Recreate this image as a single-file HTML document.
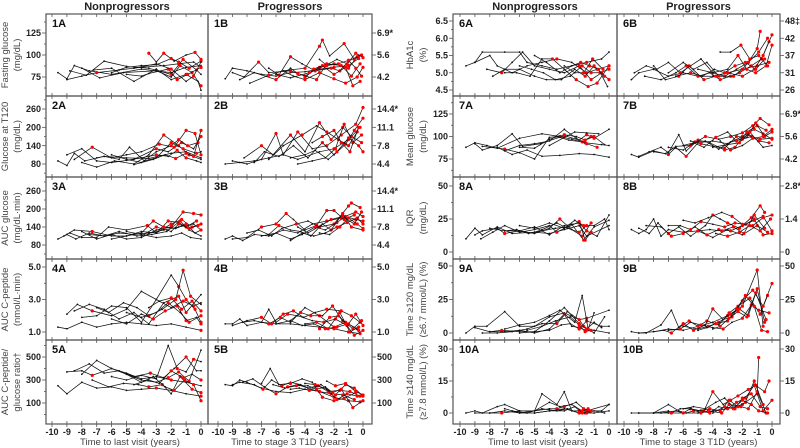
<!DOCTYPE html>
<html><head><meta charset="utf-8">
<style>
html,body{margin:0;padding:0;background:#fff;}
svg{display:block;font-family:"Liberation Sans",Arial,sans-serif;}
.tk{font-size:9px;font-weight:bold;fill:#222;}
.ttl{font-size:9.5px;fill:#444;}
.hd{font-size:11px;font-weight:bold;fill:#222;}
.pl{font-size:11px;font-weight:bold;fill:#111;}
</style></head>
<body>
<svg id="fig" width="800" height="448" viewBox="0 0 800 448" xmlns="http://www.w3.org/2000/svg"></svg>
<script>
// ---- data: each subject "t:v" pairs, * = red marker ----
const p1A=["-9.6:80,-9:73,-8.5:88,-7.5:82,-6:78,-4:84,-2:80,-1:86,0:88","-9:72,-8:76,-7:80*,-5.5:83,-4:86,-2.5:88,-1.5:90*,-0.5:92,0:86*","-8.8:82,-7.7:77,-6.5:93,-5:87,-3.5:85,-2:78*,-1.2:95*,-0.3:83*,0:78","-8:85,-6.8:74,-5.2:80,-3:82,-2:75,-1.4:88*,-0.6:80*,0:65*","-3.5:102*,-3:92,-2.5:102*,-1.8:93,-1:100,-0.4:103*,0:95*","-7.2:83,-6:85,-4.5:70,-3:84,-2:72,-1:78*,-0.2:70,0:60","-6:80,-5:86,-4:88,-3:89,-2:96*,-1.5:92*,-0.8:85*,0:93*","-5:78,-4:76,-3.5:79,-2.2:84*,-1.6:72*,-0.9:78*,0:86*","-4.5:85,-3:90,-2:84*,-1:70,-0.5:76*,0:92"];
const p1B=["-9.5:73,-9:85,-8:82,-7:78,-6:76,-5:80,-4:81,-3:84,-2:86*,-1:88*,-0.3:96*","-9:80,-8.2:75,-7.2:92*,-6.5:80,-5:82*,-4:76*,-3:86*,-2:90*,-1:85*,-0.4:98*","-8.5:72,-7.5:80,-6:72*,-5:85,-4.5:79*,-3.2:72*,-2.5:90*,-1.5:88*,-0.8:76*,-0.2:90*","-7.8:68,-6.5:77*,-5.5:82,-4:85*,-3:110*,-2.8:117*,-2.3:99,-1.3:113*,-0.6:95*,-0.1:100*","-5.5:82,-4.8:76,-4:72*,-3:80*,-2:73*,-1.2:68*,-0.4:75*,0:86*","-6.5:85,-5.8:77*,-5:98*,-4.2:90,-3.3:82*,-2.2:85*,-1.6:82*,-1:93*,-0.3:99*","-4:74*,-3.4:84*,-2.8:88*,-2:78*,-1.2:86*,-0.7:65*,-0.2:70*","-6:78,-5:74,-3.7:80*,-2.6:88*,-1.8:95,-1.1:90*,-0.5:102*,0:97*","-3:95,-2.5:88*,-1.7:90*,-1:94*,-0.5:85*,-0.1:76*"];
const p2A=["-9.6:90,-9:75,-8.5:115,-7.8:90,-6.5:105,-5:100,-3.5:98,-2:115,-1:120,0:100","-9:110,-8:130,-7:90,-6:85,-4.5:95,-3:130*,-2.2:120,-1.3:150*,-0.5:130,0:170*","-8.5:95,-7.3:135*,-6:100,-5:110,-4:120,-2.8:145*,-1.8:135*,-1:190*,-0.4:180*,0:110*","-8:85,-7:70,-5.8:90,-4.5:80,-3.5:110,-2.5:175*,-1.5:140*,-0.8:110*,0:95","-7:100,-6.5:105,-5.5:95,-4.8:135,-3.8:90,-3:100,-2:150*,-1.2:130*,-0.3:115*,0:120","-6:110,-5:95,-4:85,-3:120,-2:140*,-1.5:160*,-0.9:140*,-0.2:150*","-5:92,-4:100,-3:110*,-2.2:105,-1.6:125*,-1:100*,-0.3:90,0:85","-4.5:78,-3.2:95,-2.4:110,-1.7:98*,-1:115*,-0.5:105*,0:190*"];
const p2B=["-9.5:80,-8.5:85,-7.5:90,-6.5:100,-5.5:110,-4.5:95,-3:120,-2:130*,-1:160*,-0.2:200*","-9:90,-8:80,-7:95,-6:180*,-5.5:110,-4.5:185*,-3.5:130,-2.5:140*,-1.5:175*,-0.5:210*,0:265*","-8.2:100,-7:140*,-6.2:110,-5:175*,-4:120,-3:215*,-2.2:160*,-1.4:200*,-0.8:170*,-0.1:150*","-7.5:85,-6.8:120,-5.8:105,-4.8:140,-3.8:100,-2.8:150*,-2:110,-1.2:145*,-0.6:190*,0:230*","-6.5:95,-5.5:140,-4.2:175*,-3.2:205,-2.5:185*,-1.7:160*,-1:140*,-0.4:185*","-5:100,-4:110,-3.3:125,-2.4:95,-1.8:120*,-1:165*,-0.3:140*,0:120*","-4.5:80,-3.5:90,-2.6:100,-1.9:130*,-1.3:210*,-0.7:150*,-0.1:175*","-3.5:150,-2.8:170*,-2:190*,-1.5:150*,-0.9:120*,-0.3:200*"];
const p3A=["-9.6:100,-9:115,-8.4:100,-7.5:120,-6.5:110,-5.5:120,-4.5:115,-3.5:120,-2.5:130,-1.5:140,-0.5:150,0:130","-9.2:110,-8.5:130,-7.3:125*,-6:110,-5:110,-4:125,-3:120,-2:150*,-1.3:165*,-0.6:140*,0:150*","-8.8:120,-8:105,-7:105,-6.2:140,-5:130,-3.6:145*,-3:120,-2.2:160*,-1.5:155*,-1:140*,-0.3:160*","-8:125,-7:100,-6:115,-5:100,-4:105,-3:130,-2:140*,-1.2:190*,-0.5:185*,0:180*","-7.5:115,-6.5:110,-5.5:125,-4.3:110,-3.3:115,-2.3:125,-1.4:160*,-0.8:130,0:110","-6:100,-5:110,-4:120,-3.2:160*,-2.5:140*,-1.7:135,-1:150*,-0.4:120,0:130*","-5:125,-4:115,-3:105,-2:110,-1.3:120,-0.7:105,0:100","-4:110,-3:140*,-2:125,-1.5:150*,-0.8:135*,-0.2:145*"];
const p3B=["-9.5:100,-9:110,-8.3:95,-7.5:115,-6.5:110,-5.5:130,-4.5:120,-3.5:150,-2.5:160*,-1.5:170*,-0.5:190*,0:175*","-9:100,-8:105,-7:140*,-6:150*,-5.3:185*,-4.8:165,-4:130,-3.2:145*,-2.5:195*,-2:195*,-1.3:165*,-0.6:180*","-8:120,-7.2:130,-6.3:110,-5.6:135,-4.6:150*,-3.8:160,-3:140*,-2:150*,-1:210*,-0.8:220*,-0.2:205*","-7:110,-6:120,-5:100,-4.2:115,-3.3:140*,-2.6:130,-1.8:155*,-1.2:175*,-0.5:165*,0:160*","-6.5:115,-5.8:145*,-5:130,-4.3:125,-3.6:110,-2.8:150,-2.2:130*,-1.4:185*,-0.8:140*,0:130*","-5:95,-4.2:120,-3.4:110,-2.6:120,-1.8:140*,-1.1:155*,-0.4:170*,0:150*","-4.5:140,-3.8:120,-2.9:145,-2.2:165*,-1.4:175*,-0.6:150*,-0.1:190*","-3:120,-2.3:115,-1.6:140*,-1:170*,-0.4:150*,0:135*"];
const p4A=["-9.6:1.3,-9:1.2,-8:1.6,-7:1.3,-6:1.5,-5:1.6,-4:1.5,-3:1.4,-2:1.5,-1:1.3,0:1.1*","-9:2.1,-8.3:2.7,-7.3:2.3*,-6:2.0,-5:2.4,-4:3.5,-3:3.0,-2:2.5,-1.2:2.9*,-0.5:2.6*,0:2.8","-8.5:2.3,-7.5:2.7,-6.5:2.4,-5.5:1.8,-4.5:2.2,-3.5:1.5,-2.5:2.8,-1.5:3.2*,-1:2.2*,0:3.3","-8:1.9,-7:2.0,-6:2.6,-5:2.5,-4:1.6,-3:3.0,-2:4.5,-1.5:3.8*,-1:3.0*,-0.4:2.4*,0:1.6*","-7:2.5,-6.2:2.2,-5.2:2.8,-4.3:2.5,-3.5:2.0*,-2.6:2.4,-1.7:3.0*,-1.2:4.8*,-0.7:3.2*,0:2.7","-6:1.8,-5:1.5,-4:2.1,-3.2:1.8*,-2.4:2.3*,-1.6:2.6*,-1:1.7*,-0.3:1.9,0:1.5*","-5:2.2,-4:1.9,-3:2.2,-2.2:2.8*,-1.4:2.2,-0.8:1.6*,0:2.0*","-3.5:2.5,-2.8:2.9,-2:3.1*,-1.3:2.4*,-0.6:2.9*,0:2.3*"];
const p4B=["-9.5:1.5,-9:1.5,-8.5:1.8,-8:1.4,-7:1.6,-6:1.5,-5:1.5,-4:1.4,-3:1.3,-2:1.2*,-1:1.0*,-0.2:0.9*","-9:1.4,-8:1.7,-7:1.9*,-6.3:1.5*,-5.5:2.1*,-4.8:2.3*,-4.1:1.9,-3.3:2.2,-2.5:2.4*,-1.5:2.3*,-0.8:2.0*,-0.2:1.6*","-8.3:1.6,-7.5:1.7,-6.5:1.5*,-5.7:1.9*,-5:1.6,-4:2.5,-3:2.0*,-2:1.3*,-1.2:1.6*,-0.4:1.2*","-7:1.6,-6.5:2.4,-6:1.6,-5.2:2.1*,-4.5:2.0,-3.5:1.7,-2.7:1.6*,-1.9:1.8*,-1.1:1.4*,-0.5:2.1*,0:1.4*","-6:1.5,-5:1.7,-4.2:1.4,-3.4:1.5,-2.6:1.2*,-1.8:1.3*,-1:1.5*,-0.3:1.1*","-5:1.7,-4.3:2.2*,-3.6:2.0*,-2.8:2.0,-2.1:2.6*,-1.4:1.7*,-0.7:1.2*,-0.1:1.7*","-4:1.5,-3.2:1.6*,-2.4:1.2*,-1.6:2.2*,-0.9:1.0*,-0.3:1.3*","-3:1.2*,-2.3:1.9*,-1.7:2.0*,-1.2:1.5*,-0.6:0.8*,0:1.1*"];
const p5A=["-9.6:250,-9:180,-8:280,-7:230,-6:240,-5:210,-4:220,-3:230*,-2:210,-1:180,0:160*","-9:370,-8:380,-7.3:340*,-6:400,-5:360,-4:310,-3:330,-2:300*,-1:280,0:250","-8.5:380,-7.5:440,-6.5:360,-5.5:380,-4.5:330,-3.4:360*,-2.5:320,-1.8:400,-1:500*,-0.3:380,0:380","-8:350,-7:470,-6:400,-5:350,-4:300,-3:280,-2.2:320*,-1.5:370*,-0.8:290*,0:560","-7.3:300,-6.2:240,-5.2:270,-4.2:260,-3.5:240*,-2.6:260*,-2:180,-1.4:330*,-0.6:220*,0:190*","-6:330,-5:300,-4:340,-3:310,-2.2:600,-1.6:400*,-1:370,-0.5:480*,0:460","-5:350,-4:280,-3.2:330,-2.4:240,-1.8:210*,-1.1:300*,-0.5:260*,0:120*","-4.5:260,-3.5:300,-2.8:270,-2:380*,-1.2:320*,-0.6:350,0:300*"];
const p5B=["-9.5:260,-9:250,-8.5:300,-8:280,-7:230,-6:200,-5:190,-4:220,-3:200,-2:150*,-1:120*,-0.2:110*","-9:260,-8.5:280,-7.5:260,-6.9:220*,-6.3:300,-5.6:250*,-5:280,-4.3:260,-3.6:220,-3:200*,-2.2:180*,-1.4:170*,-0.6:130*","-8.3:280,-7.6:310,-6.8:240,-6:180*,-5.2:240*,-4.5:260,-3.8:230,-3.1:250*,-2.4:200*,-1.6:210*,-0.9:200*,-0.2:160*","-7:270,-6.4:400,-5.8:260,-5:270*,-4.2:310,-3.5:280,-2.8:150*,-2:120*,-1.3:140*,-0.5:190*","-6.2:260,-5.4:230,-4.6:250*,-3.8:250,-3.2:220*,-2.6:240,-1.9:170*,-1.2:260*,-0.6:230*,0:160*","-5:220,-4.4:230,-3.7:210*,-2.9:260,-2.1:190*,-1.5:220*,-0.7:60*,0:120*","-4:270,-3.3:260*,-2.5:220,-1.8:130*,-1.1:180*,-0.4:160*","-2.5:290,-1.9:250*,-1.2:270*,-0.5:200*,0:170*"];
const p6A=["-9.6:5.2,-9:5.3,-8.5:5.6,-7:5.6,-6:5.6,-5.5:5.3,-4.5:5.2,-3.5:5.1,-2.5:5.2,-1.5:5.3*,-0.5:5.4,0:5.6","-9:5.3,-8:5.5,-7.5:5.2,-6.5:5.0,-5.5:5.2,-4.5:5.3,-3.5:5.4*,-2.5:5.3,-1.5:5.0*,-0.8:5.1*,0:5.2*","-8.2:5.1,-7.2:5.0*,-6.5:5.3,-5.8:5.6,-5:5.2,-4:5.1,-3:5.0,-2:5.2*,-1.2:4.8*,-0.5:5.0*,0:4.8*","-7.8:4.9,-7:5.1,-6:5.1,-5:4.9,-4.2:4.8,-3.2:4.8,-2.3:5.1,-1.6:4.9*,-1:5.2*,-0.3:4.9*","-7:5.0,-6.2:5.0,-5.3:4.9,-4.5:5.4,-3.8:5.4*,-3:5.1,-2.2:4.8*,-1.4:4.6*,-0.8:4.7*,0:5.2*","-6:5.2,-5.2:5.1,-4.4:5.0,-3.6:4.8,-2.6:4.9,-1.8:5.2*,-1.2:5.0*,-0.6:5.0*,0:5.1*","-5:5.5,-4.2:5.3,-3.3:5.0,-2.5:5.2,-1.9:5.3*,-1.3:5.2*,-0.7:5.1*,-0.1:4.6","-3:5.2,-2.3:5.0,-1.7:5.0*,-1.1:5.4*,-0.4:5.1*"];
const p6B=["-9.5:4.8,-9:5.0,-8:5.1,-7:4.9,-6:5.0,-5:4.9,-4:4.9,-3:5.0,-2:5.1*,-1:5.2*,-0.2:5.3*","-9.3:5.0,-8.5:5.2,-7.8:5.1,-7:5.3,-6.2:5.0*,-5.5:5.2,-4.8:5.4,-4:5.0*,-3.2:4.9*,-2.4:5.1,-1.6:5.3*,-0.9:5.6*,-0.3:6.0*","-8.6:4.9,-7.5:4.8,-6.5:5.0,-5.8:5.2*,-5:4.9*,-4.2:5.0,-3.5:4.8*,-2.8:4.9*,-2.2:5.0*,-1.4:5.2*,-0.7:5.4*,-0.2:5.9*","-8:5.2,-7.2:4.8,-6.3:4.9*,-5.6:5.2*,-4.6:4.8*,-3.8:4.9*,-3:5.0*,-2:4.9*,-1.2:5.1*,-0.6:5.5*,0:6.1*","-7:5.0,-6:5.3,-5.3:5.1,-4.4:5.3,-3.6:4.9*,-2.6:4.9*,-2:5.1*,-1.6:5.3*,-1:5.7*,-0.8:6.2*","-6.5:4.9,-5.5:5.0*,-4.7:4.9,-3.9:5.1,-3.2:5.0*,-2.5:5.2*,-1.8:5.3*,-1.1:5.1*,-0.5:5.4*","-3.5:5.6,-2.8:5.6,-2.1:5.8*,-1.5:5.4*,-0.9:5.5*,-0.3:5.2*","-5:5.1,-4:5.0,-3:5.1,-2.3:5.5*,-1.7:5.1*,-1.1:5.0*,-0.4:5.2*,0:5.8*"];
const p7A=["-9.6:88,-9:93,-8.2:90,-7.5:87,-6:98,-4.5:103,-3.3:100*,-2.5:97,-1.6:93*,-0.5:91,0:90","-9:92,-8.5:85,-7.5:90,-6.5:103,-5.8:89,-4.6:92,-3:101*,-2:96,-1.5:102*,-1:98*,0:108","-8.5:89,-7:86*,-6:82,-5:75,-4:99,-3.5:100,-2.7:96,-1.8:94*,-1.2:100*","-7.5:88,-6.5:80,-5.5:85,-4.5:78,-3.3:79,-2:81,-1:80,0:77","-7:84,-6:90,-5:92,-4:95,-3:108,-2.2:98,-1.5:92*,-0.8:88*","-6:88,-5:87,-4:97,-3:102*,-2.2:100,-1.6:96*,-1:100*,-0.3:91","-4:90,-3:99,-2.3:105,-1.5:104,-0.7:103"];
const p7B=["-9.5:80,-9:77,-8:84,-7:80*,-6.5:88,-5.8:78*,-5:93,-4:95,-3:92,-2:100*,-1.2:108*,-0.6:103*,0:97*","-9:78,-8.3:83,-7.5:88,-7:82,-6.3:102,-5.8:84,-5:96*,-4.2:93,-3.2:85*,-2.5:88*,-1.7:105*,-1:112*,-0.4:107*","-8:83,-7.2:81,-6.5:89,-5.5:90*,-4.5:100*,-3.6:97,-2.8:100*,-2:104*,-1.3:112*,-0.8:120*,-0.2:113*","-7:88,-6:85,-5.2:94*,-4.5:95,-3.6:86,-2.8:94,-2:97*,-1.4:100*,-0.8:97*,0:98*","-6:90,-5.3:93,-4.6:88,-3.8:99*,-3:105,-2.4:95*,-1.6:102*,-0.9:95*,-0.2:93*","-5.5:95,-4.8:92*,-4:89,-3.2:87*,-2.4:100*,-1.7:99,-1.1:115*,-0.5:100*,0:105*","-3.5:95,-2.8:85*,-2:90,-1.3:98*,-0.6:100*,0:108*","-4:88,-3:91,-2.2:93*,-1.5:105*,-0.6:88,0:90"];
const p8A=["-9.6:10,-9:18,-8.5:13,-7.5:19,-6.5:14,-5:15,-4:14,-3:17,-2:20,-1.5:12,0:20","-9:13,-8.5:16,-7.5:18,-7:14*,-6:16,-5:14,-4:18,-3.3:25*,-2.5:17,-1.8:12*,-1.2:22*","-8.6:10,-7.8:15,-7:20,-6:15,-5:17,-4:20,-3.5:15*,-2.5:21,-1.7:9*,-1:19,0:24","-8:18,-7:16,-6:16,-5:19,-4:13,-3:20,-2:22*,-1.5:16*,-0.8:12,0:28","-7:16,-6.2:17,-5.4:14,-4.5:16,-3.6:18,-2.7:19,-2:23*,-1.6:9*,-1.2:15*","-6:20,-5:18,-4:22,-3:18,-2.3:24,-1.7:20*,-1:20,-0.3:25,0:17","-5:15,-4.5:17,-3.5:22,-2.8:18,-2:15*,-1.5:20*"];
const p8B=["-9.5:17,-9:14,-8.5:17,-8:25,-7.5:12,-7:17,-6:15,-5:16*,-4:11,-3:17,-2:13,-1:20*,-0.3:15*","-9:18,-8.3:14,-7.7:22,-7:14*,-6.3:19,-5.5:12,-4.5:20,-4:28*,-3.5:25,-3:22*,-2.2:18*,-1.4:26*,-0.8:35*,-0.5:30*","-8.5:20,-7.5:19,-6.8:12*,-6:14*,-5.2:19,-4.4:13*,-3.6:17*,-2.8:16*,-2:20*,-1.2:24*,-0.6:27*,0:16*","-7:20,-6.2:20,-5.5:17*,-4.8:23*,-4:21,-3.2:19*,-2.5:22*,-1.8:21*,-1.2:25*,-0.6:13*,0:14*","-6:24,-5.2:22,-4.3:26,-3.4:30,-2.7:27*,-2:21*,-1.3:20*,-0.6:26*,0:28*","-5:16*,-4.2:17,-3.4:16*,-2.6:19*,-1.9:14*,-1.2:28*,-0.5:18*","-3.8:14,-3:12*,-2.2:15*,-1.5:20*,-0.8:16*,-0.1:25*"];
const p9A=["-9.6:0,-9:5,-8.2:5,-7:16,-6:5,-5:5,-4:12,-3:15,-2:10,-1.5:11*,0:17","-9:4,-8:1,-7.2:2*,-6:1,-5:1,-4:2,-3.2:6,-2.6:7,-2:3*,-1.5:9*,-0.5:5,0:5","-8.5:0,-7.5:0,-6.5:1,-5.5:3,-4.5:7,-3.5:7*,-2.8:16,-2:10*,-1.7:5*,-1:0,-0.3:12","-8:1,-7:1,-6:2,-5:0,-4:3,-3:14*,-2.5:5,-2:4*,-1.6:2*,-1:2,0:0","-7:3,-6:6,-5:8,-4:13,-3.3:17,-2.3:8,-1.8:28,-1.4:3*,-1:15","-6:0,-5:1,-4:9,-3:19,-2.5:13,-2:7*,-1.5:3*,-1:8,-0.5:4","-5.5:2,-4.5:5,-3.6:9,-2.6:12,-2:6*,-1.6:1*,-1.2:2*"];
const p9B=["-9.5:1,-9:0,-8:1,-7:3,-6:2,-5:5,-4:8,-3:13*,-2:20*,-1:47*,-0.6:5*","-9:0,-8.5:0,-7.5:6,-6.8:17,-6.3:4,-5.6:9*,-5:5*,-4.4:9*,-3.6:6,-2.9:15*,-2.3:20*,-1.5:26*,-0.8:14*,-0.3:28*","-8:1,-7.3:2,-6.8:0*,-6:7*,-5.3:2*,-4.5:6,-4:18*,-3.3:10,-2.7:12*,-2:24*,-1.3:32*,-0.6:20*,0:37*","-7:2,-6.2:3*,-5.5:8,-4.8:6*,-4:4,-3.3:3*,-2.7:8,-2:11*,-1.4:21*,-0.9:17*,-0.2:15*","-6:5,-5:3,-4.3:5*,-3.6:8*,-2.8:14*,-2.2:18*,-1.6:13*,-1:33*,-0.5:8*","-5:2,-4.4:4,-3.8:7*,-3:9*,-2.4:18*,-1.8:28*,-1.2:20*,-0.7:2*,-0.3:1*","-4:3,-3.5:5*,-2.9:11*,-2.3:16*,-1.7:12*,-1.1:30*,-0.4:10*"];
const p10A=["-9.6:0,-9:1,-8.5:0,-7.5:3,-7:4,-6:1,-5:1,-4.5:9,-3.5:4,-3:10,-2.5:1,-2:1*,-1.5:1*,0:4","-9:0,-8:0,-7.2:0*,-6:1,-5:1,-4:2,-3.5:2*,-3:3*,-2.2:5,-1.7:2*,-1.3:1*,-0.5:1,0:4","-8:0,-7:1,-6:0,-5:0,-4:1,-3:2,-2:0*,-1.6:0*,-1:0,0:1","-7:2,-6:0,-5:1,-4:5,-3.3:3,-2.5:4,-1.8:1*,-1.4:2*","-6.5:1,-5.5:0,-4.5:2,-3.5:1,-2.8:2,-2:0*,-1.5:0*,-1:1,-0.3:0","-5:0,-4:1,-3:1,-2.3:3,-1.8:0*,-1.2:1*"];
const p10B=["-9.5:0,-9:0,-8:0,-7:0,-6:0,-5:0,-4:1,-3:2,-2:4*,-1:9*,-0.9:26*","-9:0,-8:0,-7:4,-6.3:1,-5.8:0,-5.3:1*,-4.6:1*,-4:10*,-3.3:4,-2.8:6*,-2.3:8*,-1.6:11*,-1.1:13*,-0.5:10*,-0.2:15*","-8:0,-7:1,-6.8:0*,-6.2:2,-5.5:2*,-4.8:1*,-4.2:0*,-3.6:3,-3:2*,-2.4:5*,-1.8:7*,-1.2:13*,-0.6:1*,0:6*","-7.5:0,-6.5:1,-6:0*,-5.5:2,-4.8:0*,-4.3:1*,-3.4:0*,-2.9:4*,-2.1:3*,-1.6:2*,-1:10*,-0.4:0*","-6:2,-5.3:3,-4.5:2,-3.8:5,-3.2:7,-2.5:2*,-2:7*,-1.4:9*,-0.8:3*,-0.3:2*","-5:1,-4.2:2*,-3.5:1*,-2.9:6*,-2.3:3*,-1.8:5*,-1.2:15*,-0.6:4*","-4:0,-3.2:3*,-2.6:2*,-2:6*,-1.4:4*,-0.9:1*,-0.3:0*"];

const leftTicks=[[75,100,125],[80,140,200,260],[80,140,200,260],[1,3,5],[100,300,500],[4.5,5,5.5,6,6.5],[75,100,125],[0,25,50],[0,25,50],[0,15,30]];
const leftTickText=[["75","100","125"],["80","140","200","260"],["80","140","200","260"],["1.0","3.0","5.0"],["100","300","500"],["4.5","5.0","5.5","6.0","6.5"],["75","100","125"],["0","25","50"],["0","25","50"],["0","15","30"]];
const rightTickText=[["4.2","5.6","6.9*"],["4.4","7.8","11.1","14.4*"],["4.4","7.8","11.1","14.4*"],["1.0","3.0","5.0"],["100","300","500"],["26","31","37","42","48‡"],["4.2","5.6","6.9*"],["0","1.4","2.8*"],["0","25","50"],["0","15","30"]];
const titles1=["Fasting glucose","Glucose at T120","AUC glucose","AUC C-peptide","AUC  C-peptide/","HbA1c","Mean glucose","IQR","Time ≥120 mg/dL","Time ≥140 mg/dL"];
const titles2=["(mg/dL)","(mg/dL)","(mg/dL·min)","(nmol/L·min)","glucose ratio†","(%)","(mg/dL)","(mg/dL)","(≥6.7 mmol/L) (%)","(≥7.8 mmol/L) (%)"];
const xTicks=[-10,-9,-8,-7,-6,-5,-4,-3,-2,-1,0];
const dataA=[p1A,p2A,p3A,p4A,p5A,p6A,p7A,p8A,p9A,p10A];
const dataB=[p1B,p2B,p3B,p4B,p5B,p6B,p7B,p8B,p9B,p10B];

// ---- layout ----
const rowY=[[14,96],[96,177],[177,259],[259,340],[340,424]];
const yCal=[[125,33,75,77],[260,109,80,164],[260,191,80,245],[5,267,1,332],[500,357,100,403],[6.5,21,4.5,90],[125,114,75,159],[50,186,0,252],[50,266,0,333],[30,349,0,413]];
const blocks=[{ax:46,bx:208,ex:372,a0:201,ak:14.9,b0:363,bk:14.5,tx1:8,tx2:20},{ax:453,bx:617,ex:780,a0:609,ak:14.9,b0:772,bk:14.8,tx1:413,tx2:426}];
const NS="http://www.w3.org/2000/svg";
const svg=document.getElementById('fig');
function el(tag,at,parent){const e=document.createElementNS(NS,tag);for(const k in at)e.setAttribute(k,at[k]);(parent||svg).appendChild(e);return e;}
function txt(x,y,s,cls,anchor,parent,rot){const e=el('text',{x:x,y:y,class:cls,'text-anchor':anchor||'middle'},parent);if(rot)e.setAttribute('transform','rotate(-90 '+x+' '+y+')');e.textContent=s;return e;}
function parse(s){return s.split(',').map(p=>{const r=p.endsWith('*');const q=p.replace('*','').split(':');return {t:+q[0],v:+q[1],r:r};});}

function drawPanel(r,which){
  const bi=r<5?0:1, b=blocks[bi], row=r%5;
  const [y0,y1]=rowY[row];
  const c=yCal[r];
  const ys=v=>c[1]+(v-c[0])*(c[3]-c[1])/(c[2]-c[0]);
  const x0=which==='A'?b.ax:b.bx, x1=which==='A'?b.bx:b.ex;
  const xs=t=>which==='A'?b.a0+t*b.ak:b.b0+t*b.bk;
  const g=el('g',{});
  
  
  const box=el('rect',{x:x0,y:y0,width:x1-x0,height:y1-y0,fill:'none',stroke:'#555','stroke-width':1.2},g);
  
  
  xTicks.forEach(t=>{const x=xs(t);
    el('line',{x1:x,x2:x,y1:y0,y2:y0+3,stroke:'#555','stroke-width':0.8},g);
    el('line',{x1:x,x2:x,y1:y1,y2:y1-3,stroke:'#555','stroke-width':0.8},g);
    if(row===4){el('line',{x1:x,x2:x,y1:y1,y2:y1+3,stroke:'#555','stroke-width':0.8},g);
      const lb=txt(x,435,String(t),'tk','middle',g);
      
      }
  });
  const tv=leftTicks[r];
  const step=tv[1]-tv[0];
  if(which==='A'){
    tv.forEach((v,i)=>{const y=ys(v);
      el('line',{x1:x0-4,x2:x0,y1:y,y2:y,stroke:'#555','stroke-width':0.8},g);
      const lb=txt(x0-5,y+3.2,leftTickText[r][i],'tk','end',g);
      
      
      const ym=ys(v+step/2); if(ym>y0+2) el('line',{x1:x0-2,x2:x0,y1:ym,y2:ym,stroke:'#555','stroke-width':0.8},g);
      const yl=ys(v-step/2); if(i===0&&yl<y1-2) el('line',{x1:x0-2,x2:x0,y1:yl,y2:yl,stroke:'#555','stroke-width':0.8},g);
    });
  } else {
    tv.forEach((v,i)=>{const y=ys(v);
      el('line',{x1:x1,x2:x1+4,y1:y,y2:y,stroke:'#555','stroke-width':0.8},g);
      const lb=txt(x1+5,y+3.2,rightTickText[r][i],'tk','start',g);
      
      
    });
  }
  const pl=txt(x0+6,y0+13,(r+1)+which,'pl','start',g);
  
  
  const data=which==='A'?dataA[r]:dataB[r];
  data.forEach((s,si)=>{
    const pts=parse(s);
    const sg=el('g',{},g);
    
    
    el('polyline',{points:pts.map(p=>xs(p.t).toFixed(1)+','+ys(p.v).toFixed(1)).join(' '),fill:'none',stroke:'#111','stroke-width':0.75},sg);
    pts.forEach(p=>{if(!p.r){el('circle',{cx:xs(p.t),cy:ys(p.v),r:0.9,fill:'#111'},sg);}});
    pts.forEach(p=>{if(p.r){const d=el('circle',{cx:xs(p.t),cy:ys(p.v),r:1.6,fill:'#f00'},sg);
      
      }});
  });
  if(which==='A'){
    const cy=(y0+y1)/2;
    const t1=txt(b.tx1,cy,titles1[r],'ttl','middle',svg,true);
    
    
    const t2=txt(b.tx2,cy,titles2[r],'ttl','middle',svg,true);
    
    
  }
}
for(let r=0;r<10;r++){drawPanel(r,'A');drawPanel(r,'B');}
blocks.forEach(b=>{
  const h1=txt((b.ax+b.bx)/2,10,'Nonprogressors','hd');
  
  
  const h2=txt((b.bx+b.ex)/2,10,'Progressors','hd');
  
  
  const x1=txt((b.ax+b.bx)/2+3,445,'Time to last visit (years)','ttl');
  
  
  const x2=txt((b.bx+b.ex)/2,445,'Time to stage 3 T1D (years)','ttl');
  
  
});
</script>
</body></html>
